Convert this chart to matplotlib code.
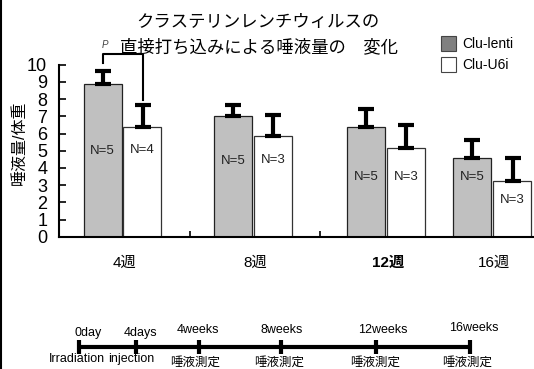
import matplotlib
matplotlib.use("Agg")
import matplotlib.pyplot as plt
import numpy as np

plt.rcParams['font.family'] = ['Liberation Sans', 'Noto Sans CJK JP']

# 唾液量 / 体重 のデータ
weeks = ['4週', '8週', '12週', '16週']
lenti_mean = [8.9, 7.0, 6.35, 4.55]
lenti_err = [0.75, 0.65, 1.1, 1.1]
u6i_mean = [6.4, 5.85, 5.15, 3.25]
u6i_err = [1.25, 1.2, 1.35, 1.3]
lenti_n = [5, 5, 5, 5]
u6i_n = [4, 3, 3, 3]

# タイムライン
tl_top = ['0day', '4days', '4weeks', '8weeks', '12weeks', '16weeks']
tl_bottom = ['Irradiation', 'injection', '唾液測定', '唾液測定', '唾液測定', '唾液測定']

# レイアウト (ピクセル単位)
W, H = 534, 369
group_x = np.array([63.5, 194, 327.5, 433.5])
sep_x = [131, 261]
lenti_n_y = [5.0, 4.4, 3.45, 3.5]
u6i_n_y = [5.05, 4.45, 3.5, 2.15]
tl_x = [79, 135.7, 198.7, 280.7, 375.7, 470]
tl_top_x = [88, 140, 198, 282, 383, 474]
tl_top_y = [333, 333, 330, 330, 330, 328]
tl_bot_x = [77, 131, 195, 279, 375, 467]
tl_bot_y = [359, 359, 362.5, 362.5, 362.5, 362.5]

fig = plt.figure(figsize=(W / 100, H / 100), dpi=100)
ax = fig.add_axes([59 / W, 1 - 236.7 / H, (533 - 59) / W, (236.7 - 64.7) / H])

gray = '#c0c0c0'
ax.bar(group_x - 20, lenti_mean, width=38, color=gray, edgecolor='#222222', linewidth=0.9, zorder=2)
ax.bar(group_x + 20, u6i_mean, width=38, color='white', edgecolor='#333333', linewidth=0.9, zorder=2)
zeros = [0] * len(weeks)
for xs, m, e in [(group_x - 20, lenti_mean, lenti_err), (group_x + 20, u6i_mean, u6i_err)]:
    ax.errorbar(xs, m, yerr=[zeros, e], fmt='none', ecolor='black',
                elinewidth=3, capsize=5.5, capthick=3, zorder=3)

for i in range(len(weeks)):
    ax.text(group_x[i] - 20, lenti_n_y[i], f'N={lenti_n[i]}', ha='center', va='center', fontsize=9.5, color='#222222')
    ax.text(group_x[i] + 20, u6i_n_y[i], f'N={u6i_n[i]}', ha='center', va='center', fontsize=9.5, color='#222222')

# 有意差のブラケット
bx0, bx1 = group_x[0] - 20, group_x[0] + 20
ax.plot([bx0, bx0, bx1, bx1], [10.08, 10.62, 10.62, 7.95], color='black', lw=1.5, clip_on=False, zorder=4)

ax.set_xlim(0, 474)
ax.set_ylim(0, 10)
for s in ['top', 'right']:
    ax.spines[s].set_visible(False)
for s in ['left', 'bottom']:
    ax.spines[s].set_linewidth(1.5)
ax.set_yticks(range(11))
ax.tick_params(axis='y', direction='in', length=5, width=1.2, pad=8.5, labelsize=13)
ax.set_xticks(sep_x)
ax.set_xticklabels([])
ax.tick_params(axis='x', which='major', direction='in', length=4, width=1.2)
ax.set_xticks(group_x + 2, minor=True)
ax.set_xticklabels(weeks, minor=True, fontsize=11)
ax.tick_params(axis='x', which='minor', length=0, pad=14)
ax.get_xticklabels(minor=True)[2].set_fontweight('bold')
for lab in ax.get_yticklabels():
    lab.set_family(['Liberation Sans Narrow', 'Liberation Sans'])

# 全体に重ねるピクセル座標の軸
ov = fig.add_axes([0, 0, 1, 1])
ov.set_xlim(0, W)
ov.set_ylim(H, 0)
ov.axis('off')

ov.plot([0.7, 0.7], [0, H], color='black', lw=1.5)

ov.text(258, 22, 'クラステリンレンチウィルスの', ha='center', va='center', fontsize=12.5)
ov.text(259, 47, '直接打ち込みによる唾液量の\u3000変化', ha='center', va='center', fontsize=12.5)
ov.text(105, 45, 'P', ha='center', va='center', fontsize=7, style='italic', color='#444444')
ov.text(19, 143, '唾液量/体重', rotation=90, ha='center', va='center', fontsize=11.5)

# 凡例
ov.add_patch(plt.Rectangle((441, 36), 15, 15, facecolor='#808080', edgecolor='#444444', lw=0.8))
ov.add_patch(plt.Rectangle((441, 57), 15, 15, facecolor='white', edgecolor='#444444', lw=0.8))
ov.text(462, 43.5, 'Clu-lenti', ha='left', va='center', fontsize=10)
ov.text(462, 65, 'Clu-U6i', ha='left', va='center', fontsize=10)

# タイムライン
ov.plot([tl_x[0], tl_x[-1]], [346.7, 346.7], color='black', lw=3, solid_capstyle='butt')
for x in tl_x:
    ov.plot([x, x], [339.5, 354], color='black', lw=3, solid_capstyle='butt')
for t, x, y in zip(tl_top, tl_top_x, tl_top_y):
    ov.text(x, y, t, ha='center', va='center', fontsize=9)
for t, x, y in zip(tl_bottom, tl_bot_x, tl_bot_y):
    ov.text(x, y, t, ha='center', va='center', fontsize=9)

fig.savefig('out.png', dpi=100)
